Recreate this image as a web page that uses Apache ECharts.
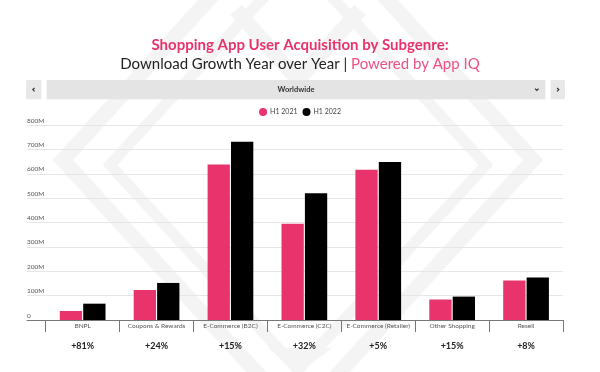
<!DOCTYPE html>
<html>
<head>
<meta charset="utf-8">
<script src="https://cdn.jsdelivr.net/npm/echarts@6/dist/echarts.min.js"></script>
<style>
html,body{margin:0;padding:0;background:#fff;}
#chart{width:600px;height:372px;}
</style>
</head>
<body>
<div id="chart"></div>
<script>
// ---- data (values in millions of downloads) ----
const categories = ['BNPL', 'Coupons & Rewards', 'E-Commerce (B2C)', 'E-Commerce (C2C)', 'E-Commerce (Retailer)', 'Other Shopping', 'Resell'];
const h1_2021 = [37, 123, 638, 395, 616, 84, 162];
const h1_2022 = [67, 152, 731, 520, 648, 96, 174];
const growthLabels = ['+81%', '+24%', '+15%', '+32%', '+5%', '+15%', '+8%'];
const seriesNames = ['H1 2021', 'H1 2022'];
const yMin = 0, yMax = 800, yStep = 100;
const regionLabel = 'Worldwide';

const PINK = '#e9336c';
const FONT = 'Lato, "Noto Sans", sans-serif';

const chart = echarts.init(document.getElementById('chart'), null, {renderer: 'canvas', width: 600, height: 372});

const wm = '#f4f4f4';
const option = {
  backgroundColor: '#ffffff',
  textStyle: {fontFamily: FONT},
  title: {
    left: 'center',
    top: 31,
    text: '{a|Shopping App User Acquisition by Subgenre:}\n{b|Download Growth Year over Year | }{c|Powered by App IQ}',
    textStyle: {
      fontWeight: 'normal',
      rich: {
        a: {fontFamily: FONT, fontSize: 15, fontWeight: 'bold', color: PINK, lineHeight: 19},
        b: {fontFamily: FONT, fontSize: 15, fontWeight: 'normal', color: '#222', lineHeight: 19},
        c: {fontFamily: FONT, fontSize: 15, fontWeight: 'normal', color: '#ef5186', lineHeight: 19}
      }
    }
  },
  legend: {
    data: seriesNames,
    top: 108,
    left: 'center',
    icon: 'circle',
    itemWidth: 8,
    itemHeight: 8,
    itemGap: 5,
    padding: 0,
    textStyle: {fontSize: 7, color: '#444', fontFamily: FONT, padding: [0, 0, 0, -2]}
  },
  graphic: [
    // faint watermark
    {type: 'polygon', z: -10, silent: true, shape: {points: [[298, -99], [63, 160], [298, 418], [533, 160]]}, style: {fill: null, stroke: wm, lineWidth: 15}},
    {type: 'polygon', z: -10, silent: true, shape: {points: [[298, -40], [110, 165], [298, 370], [486, 165]]}, style: {fill: null, stroke: wm, lineWidth: 11}},
    {type: 'polyline', z: -10, silent: true, shape: {points: [[236, 10], [298, 80], [360, 10]]}, style: {fill: null, stroke: wm, lineWidth: 15}},
    {type: 'polygon', z: -10, silent: true, shape: {points: [[268, 348], [332, 348], [300, 372]]}, style: {fill: wm}},
    // dropdown bar
    {type: 'rect', shape: {x: 26, y: 80, width: 15.3, height: 19.3, r: 1}, style: {fill: '#e8e8e8'}},
    {type: 'rect', shape: {x: 46.7, y: 80, width: 498.6, height: 19.3, r: 1}, style: {fill: '#e4e4e4'}},
    {type: 'rect', shape: {x: 550.7, y: 80, width: 14.3, height: 19.3, r: 1}, style: {fill: '#e8e8e8'}},
    {type: 'polyline', shape: {points: [[34.6, 87.8], [32.8, 89.6], [34.6, 91.4]]}, style: {stroke: '#333', lineWidth: 1.2, fill: null}},
    {type: 'polyline', shape: {points: [[557, 87.8], [558.8, 89.6], [557, 91.4]]}, style: {stroke: '#333', lineWidth: 1.2, fill: null}},
    {type: 'polyline', shape: {points: [[535, 88.6], [536.8, 90.4], [538.6, 88.6]]}, style: {stroke: '#333', lineWidth: 1.2, fill: null}},
    {type: 'text', style: {text: regionLabel, x: 296, y: 89.8, align: 'center', verticalAlign: 'middle', fontSize: 7.5, fontWeight: 'bold', fill: '#333', fontFamily: FONT}}
  ],
  grid: [
    {left: 27, right: 37, top: 125, bottom: 52},
    {left: 45.7, right: 37, top: 125, bottom: 52}
  ],
  xAxis: [
    {gridIndex: 0, type: 'value', min: 0, max: 1,
      axisLine: {show: true, lineStyle: {color: '#777', width: 1}},
      axisTick: {show: false}, axisLabel: {show: false}, splitLine: {show: false}},
    {gridIndex: 1, type: 'category', data: categories,
      axisLine: {show: true, lineStyle: {color: '#777', width: 1}},
      axisTick: {show: true, interval: 0, length: 12, lineStyle: {color: '#777', width: 1}},
      axisLabel: {
        interval: 0, margin: 1,
        formatter: function (v, i) { return '{a|' + v + '}\n{b|' + growthLabels[i] + '}'; },
        rich: {
          a: {fontSize: 6.5, color: '#555', lineHeight: 10, fontFamily: FONT},
          b: {fontSize: 9, fontWeight: 'bold', color: '#222', lineHeight: 31, fontFamily: FONT}
        }
      }}
  ],
  yAxis: [
    {gridIndex: 0, type: 'value', min: yMin, max: yMax, interval: yStep,
      axisLine: {show: false}, axisTick: {show: false},
      axisLabel: {inside: true, margin: 0, verticalAlign: 'bottom', padding: [0, 0, 1, 0], fontSize: 6.5, color: '#555', fontFamily: FONT,
        formatter: function (v) { return v === 0 ? '0' : v + 'M'; }},
      splitLine: {show: true, lineStyle: {color: '#e6e6e6', width: 1}}},
    {gridIndex: 1, type: 'value', min: yMin, max: yMax, interval: yStep, show: false, splitLine: {show: false}}
  ],
  series: [
    {name: seriesNames[0], type: 'bar', xAxisIndex: 1, yAxisIndex: 1, data: h1_2021, barWidth: 22.3, barGap: '5%', itemStyle: {color: PINK}},
    {name: seriesNames[1], type: 'bar', xAxisIndex: 1, yAxisIndex: 1, data: h1_2022, barWidth: 22.3, barGap: '5%', itemStyle: {color: '#000'}}
  ]
};
chart.setOption(option);
</script>
</body>
</html>
